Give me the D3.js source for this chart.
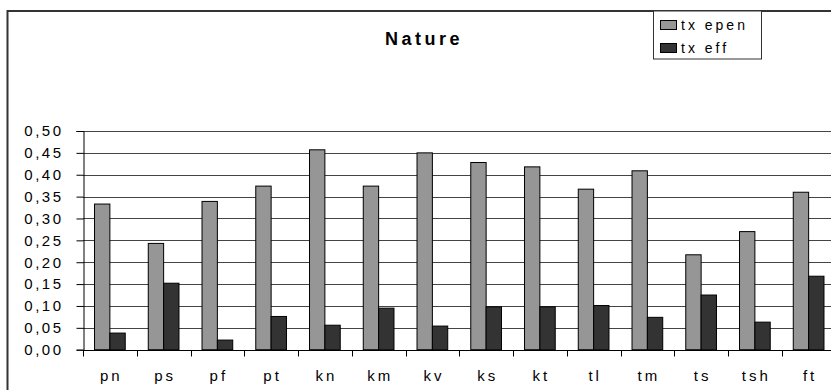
<!DOCTYPE html>
<html>
<head>
<meta charset="utf-8">
<script src="https://cdn.jsdelivr.net/npm/d3@7"></script>
<style>
  body { margin: 0; background: #fff; }
  svg { display: block; font-family: Arial, "Liberation Sans", sans-serif; }
</style>
</head>
<body>
<svg id="chart" width="831" height="390"></svg>
<script>
// categories and the two series
const categories = ["pn", "ps", "pf", "pt", "kn", "km", "kv", "ks", "kt", "tl", "tm", "ts", "tsh", "ft"];
const txEpen = [0.333, 0.243, 0.339, 0.374, 0.457, 0.374, 0.450, 0.428, 0.418, 0.367, 0.409, 0.217, 0.270, 0.360];
const txEff = [0.038, 0.152, 0.022, 0.076, 0.056, 0.095, 0.054, 0.098, 0.098, 0.101, 0.074, 0.125, 0.063, 0.168];
const seriesNames = ["tx epen", "tx eff"];
const seriesColors = ["#969696", "#333333"];
const yTicks = [0, 0.05, 0.1, 0.15, 0.2, 0.25, 0.3, 0.35, 0.4, 0.45, 0.5];

const svg = d3.select("#chart");

const plot = { left: 83, right: 835.5, top: 131, bottom: 349.7 };

const x = d3.scaleBand()
    .domain(categories)
    .range([plot.left, plot.right])
    .padding(0);

const xs = d3.scaleBand()
    .domain(seriesNames)
    .range([0, x.bandwidth()])
    .paddingInner(0)
    .paddingOuter(0.75);

const y = d3.scaleLinear()
    .domain([0, 0.5])
    .range([plot.bottom, plot.top]);

const fmt = d => d3.format(".2f")(d).replace(".", ",");

// outer chart frame (only left and top edges are inside the picture)
svg.append("rect")
    .attr("x", 7.5)
    .attr("y", 11)
    .attr("width", 900)
    .attr("height", 500)
    .attr("fill", "none")
    .attr("stroke", "#333")
    .attr("stroke-width", 2);

// gridlines
svg.append("g")
    .selectAll("line")
    .data(yTicks.filter(d => d > 0))
    .join("line")
    .attr("x1", plot.left)
    .attr("x2", 831)
    .attr("y1", d => Math.round(y(d)) + 0.5)
    .attr("y2", d => Math.round(y(d)) + 0.5)
    .attr("stroke", "#444")
    .attr("stroke-width", 1);

// bars
const rows = categories.map((c, i) => ({ cat: c, values: [txEpen[i], txEff[i]] }));

const groups = svg.append("g")
    .selectAll("g")
    .data(rows)
    .join("g")
    .attr("transform", d => "translate(" + x(d.cat) + ",0)");

groups.selectAll("rect")
    .data(d => d.values.map((v, j) => ({ name: seriesNames[j], value: v, color: seriesColors[j] })))
    .join("rect")
    .attr("x", d => xs(d.name))
    .attr("y", d => y(d.value))
    .attr("width", xs.bandwidth())
    .attr("height", d => y(0) - y(d.value))
    .attr("fill", d => d.color)
    .attr("stroke", "#000")
    .attr("stroke-width", 1);

// y axis
const yAxis = svg.append("g")
    .attr("transform", "translate(" + (plot.left + 0.5) + ",0)")
    .call(d3.axisLeft(y).tickValues(yTicks).tickFormat(fmt).tickSize(7).tickPadding(13));
yAxis.select(".domain").attr("stroke", "#000");
yAxis.selectAll(".tick line").attr("stroke", "#000");
yAxis.selectAll(".tick text")
    .attr("font-size", 15)
    .attr("letter-spacing", "2.5px")
    .attr("fill", "#000")
    .attr("font-family", "Arial, 'Liberation Sans', sans-serif");

// x axis
const xAxis = svg.append("g")
    .attr("transform", "translate(0," + (Math.round(plot.bottom) + 0.5) + ")");
xAxis.append("line")
    .attr("x1", plot.left)
    .attr("x2", 831)
    .attr("stroke", "#000");
xAxis.selectAll(".xtick")
    .data(categories)
    .join("line")
    .attr("class", "xtick")
    .attr("x1", d => Math.round(x(d)) + 0.5)
    .attr("x2", d => Math.round(x(d)) + 0.5)
    .attr("y1", 0)
    .attr("y2", 6)
    .attr("stroke", "#000");
xAxis.selectAll(".xlabel")
    .data(categories)
    .join("text")
    .attr("class", "xlabel")
    .attr("x", d => x(d) + x.bandwidth() / 2 + 1.5)
    .attr("y", 30)
    .attr("text-anchor", "middle")
    .attr("font-size", 15)
    .attr("letter-spacing", "3px")
    .text(d => d);

// title
svg.append("text")
    .attr("x", 424)
    .attr("y", 45)
    .attr("text-anchor", "middle")
    .attr("font-size", 18)
    .attr("font-weight", "bold")
    .attr("letter-spacing", "3.5px")
    .text("Nature");

// legend
const legend = svg.append("g").attr("transform", "translate(653,11)");
legend.append("rect")
    .attr("x", 0.5)
    .attr("y", 0)
    .attr("width", 108)
    .attr("height", 48)
    .attr("fill", "#fff")
    .attr("stroke", "#333")
    .attr("stroke-width", 1);

const items = legend.selectAll(".item")
    .data(seriesNames)
    .join("g")
    .attr("class", "item")
    .attr("transform", (d, i) => "translate(0," + (14 + i * 23) + ")");
items.append("rect")
    .attr("x", 7.5)
    .attr("y", -4.5)
    .attr("width", 16)
    .attr("height", 9)
    .attr("fill", (d, i) => seriesColors[i])
    .attr("stroke", "#000");
items.append("text")
    .attr("x", 28)
    .attr("y", 5)
    .attr("font-size", 14)
    .attr("letter-spacing", "3px")
    .text(d => d);
</script>
</body>
</html>
